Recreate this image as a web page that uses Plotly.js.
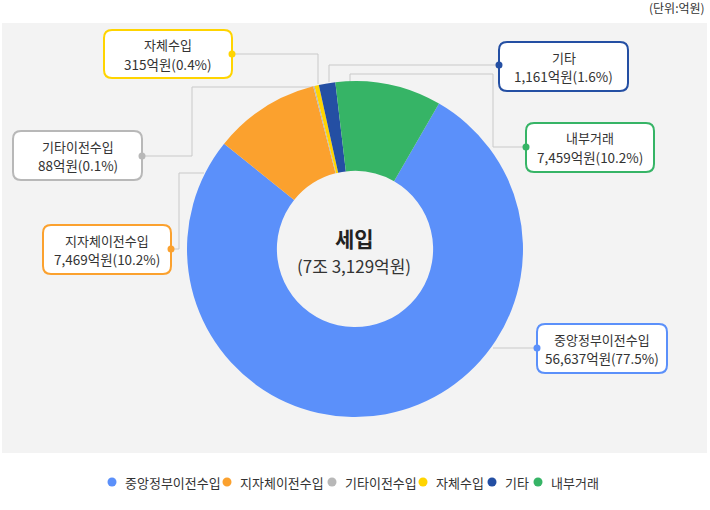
<!DOCTYPE html>
<html><head><meta charset="utf-8">
<script src="https://cdn.plot.ly/plotly-3.0.1.min.js"></script>
<style>html,body{margin:0;padding:0;background:#fff}#chart{width:710px;height:510px}</style>
</head><body><div id="chart"></div>
<script>
// ---- data ----
var labels = ['중앙정부이전수입', '지자체이전수입', '기타이전수입', '자체수입', '기타', '내부거래'];
var values = [56637, 7469, 88, 315, 1161, 7459];
var percents = [77.5, 10.2, 0.1, 0.4, 1.6, 10.2];
var colors = ['#5B90FA', '#FBA12E', '#B8B8B8', '#FFD400', '#244FA3', '#36B466'];
var centerTitle = '세입';
var unitLabel = '(단위:억원)';

// ---- helpers ----
var W = 710, H = 510;
function X(p) { return p / W; }
function Y(p) { return 1 - p / H; }
function fmt(n) { return String(n).replace(/\B(?=(\d{3})+(?!\d))/g, ','); }
var total = values.reduce(function (a, b) { return a + b; }, 0);
function totalText(t) {
  var jo = Math.floor(t / 10000), rest = t % 10000;
  return '(' + (jo ? jo + '조 ' : '') + fmt(rest) + '억원)';
}
var FONT = '"Noto Sans CJK KR", "Noto Sans", sans-serif';

// callout layout (pixel boxes) per category index
var boxes = [
  {i: 0, x0: 537, y0: 324, x1: 667, y1: 373, path: [[537, 348], [493, 348]]},
  {i: 1, x0: 43, y0: 225, x1: 171, y1: 274, path: [[171, 249], [179, 249], [179, 173], [204, 173]]},
  {i: 2, x0: 13, y0: 131, x1: 142, y1: 180, path: [[142, 156], [192, 156], [192, 87], [316, 87]]},
  {i: 3, x0: 104, y0: 30, x1: 232, y1: 78, path: [[232, 54], [318, 54], [318, 84]]},
  {i: 4, x0: 499, y0: 42, x1: 628, y1: 91, path: [[499, 65], [329, 65], [329, 82]]},
  {i: 5, x0: 526, y0: 123, x1: 654, y1: 172, path: [[526, 147], [493, 147], [493, 74], [350, 74], [350, 82]]}
];
var legendPos = [[112, 123], [227, 238], [332, 343], [423, 434], [492, 503], [538, 549]];

var shapes = [];
var annotations = [];
// gray panel
shapes.push({type: 'rect', xref: 'paper', yref: 'paper', layer: 'below',
  x0: X(2), x1: X(707), y0: Y(23), y1: Y(453), fillcolor: '#F3F3F3', line: {width: 0}});

function roundRect(x0, y0, x1, y1, r) {
  var p = function (a, b) { return X(a) + ',' + Y(b); };
  return 'M' + p(x0 + r, y0) + ' L' + p(x1 - r, y0) + ' Q' + p(x1, y0) + ' ' + p(x1, y0 + r) +
    ' L' + p(x1, y1 - r) + ' Q' + p(x1, y1) + ' ' + p(x1 - r, y1) +
    ' L' + p(x0 + r, y1) + ' Q' + p(x0, y1) + ' ' + p(x0, y1 - r) +
    ' L' + p(x0, y0 + r) + ' Q' + p(x0, y0) + ' ' + p(x0 + r, y0) + ' Z';
}

boxes.forEach(function (b) {
  var pts = b.path.map(function (q) { return X(q[0]) + ',' + Y(q[1]); });
  shapes.push({type: 'path', xref: 'paper', yref: 'paper', layer: 'below',
    path: 'M' + pts.join(' L'), line: {color: '#C9C9C9', width: 1}});
});
boxes.forEach(function (b) {
  shapes.push({type: 'path', xref: 'paper', yref: 'paper', layer: 'above',
    path: roundRect(b.x0, b.y0, b.x1, b.y1, 8), fillcolor: '#FFFFFF',
    line: {color: colors[b.i], width: 2}});
  var d = b.path[0], r = 3.5;
  shapes.push({type: 'circle', xref: 'paper', yref: 'paper', layer: 'above',
    x0: X(d[0] - r), x1: X(d[0] + r), y0: Y(d[1] + r), y1: Y(d[1] - r),
    fillcolor: colors[b.i], line: {width: 0}});
  var mx = (b.x0 + b.x1) / 2, my = (b.y0 + b.y1) / 2;
  annotations.push({xref: 'paper', yref: 'paper', x: X(mx), y: Y(my - 9.5),
    xanchor: 'center', yanchor: 'middle', showarrow: false, borderpad: 0,
    text: labels[b.i], font: {family: FONT, size: 13, color: '#333333'}});
  annotations.push({xref: 'paper', yref: 'paper', x: X(mx), y: Y(my + 9.5),
    xanchor: 'center', yanchor: 'middle', showarrow: false, borderpad: 0,
    text: fmt(values[b.i]) + '억원(' + percents[b.i].toFixed(1) + '%)',
    font: {family: FONT, size: 13.5, color: '#333333'}});
});

// legend
legendPos.forEach(function (lp, i) {
  var r = 4.5, cy = 482;
  shapes.push({type: 'circle', xref: 'paper', yref: 'paper', layer: 'above',
    x0: X(lp[0] - r), x1: X(lp[0] + r), y0: Y(cy + r), y1: Y(cy - r),
    fillcolor: colors[i], line: {width: 0}});
  annotations.push({xref: 'paper', yref: 'paper', x: X(lp[1]), y: Y(cy),
    xanchor: 'left', yanchor: 'middle', showarrow: false, text: labels[i],
    font: {family: FONT, size: 13, color: '#333333'}});
});

// center text
annotations.push({xref: 'paper', yref: 'paper', x: X(354), y: Y(238), showarrow: false,
  xanchor: 'center', yanchor: 'middle', text: '<b>' + centerTitle + '</b>',
  font: {family: FONT, size: 21, color: '#222222'}});
annotations.push({xref: 'paper', yref: 'paper', x: X(354), y: Y(265), showarrow: false,
  xanchor: 'center', yanchor: 'middle', text: totalText(total),
  font: {family: FONT, size: 17, color: '#333333'}});
// unit
annotations.push({xref: 'paper', yref: 'paper', x: X(707), y: Y(8), showarrow: false,
  xanchor: 'right', yanchor: 'middle', text: unitLabel,
  font: {family: FONT, size: 12, color: '#333333'}});

var cx = 355, cy = 249, R = 168;
var data = [{
  type: 'pie', labels: labels, values: values, sort: false, direction: 'clockwise',
  rotation: 30, hole: 0.465, textinfo: 'none', hoverinfo: 'none', showlegend: false,
  marker: {colors: colors, line: {width: 0}},
  domain: {x: [X(cx - R), X(cx + R)], y: [Y(cy + R), Y(cy - R)]}
}];
var layout = {
  width: W, height: H, margin: {l: 0, r: 0, t: 0, b: 0},
  paper_bgcolor: '#FFFFFF', plot_bgcolor: '#FFFFFF', showlegend: false,
  font: {family: FONT, color: '#333333'},
  shapes: shapes, annotations: annotations
};
Plotly.newPlot('chart', data, layout, {displayModeBar: false, staticPlot: true});
</script></body></html>
